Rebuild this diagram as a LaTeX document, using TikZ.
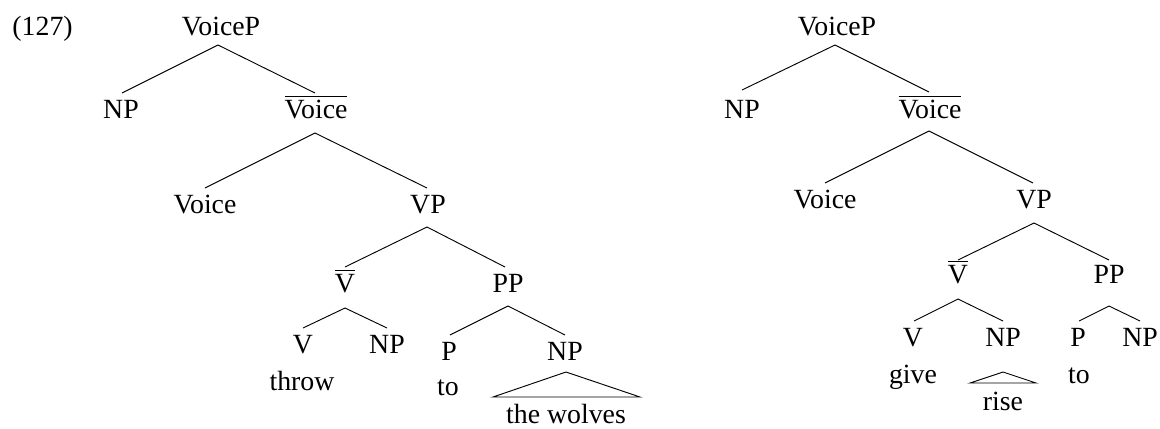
\documentclass[tikz,border=0pt]{standalone}
\usepackage{fontspec}
\setmainfont{Liberation Serif}
\begin{document}
\begin{tikzpicture}[x=0.4317pt,y=-0.4317pt,
  lab/.style={anchor=base,inner sep=0pt,font=\fontsize{12}{14}\selectfont},
  branch/.style={line width=0.4pt}]
\useasboundingbox (0,0) rectangle (1160,428);
% ---------- left tree ----------
\node[lab,anchor=base west] (ex) at (12,35) {(127)};
\node[lab] (vpA) at (221,35) {VoiceP};
\node[lab] (npA) at (121,118) {NP};
\node[lab] (vbA) at (316,118) {$\overline{\hbox{Voice}}$};
\node[lab] (voA) at (205,213) {Voice};
\node[lab] (vpbA) at (428,213) {VP};
\node[lab] (vbarA) at (345,292) {$\overline{\hbox{V}}$};
\node[lab] (ppA) at (508,292) {PP};
\node[lab] (vA) at (303,353) {V};
\node[lab] (npbA) at (387,353) {NP};
\node[lab] (throw) at (302,390) {throw};
\node[lab] (pA) at (449,360) {P};
\node[lab] (npcA) at (565,360) {NP};
\node[lab] (toA) at (448,395) {to};
\node[lab] (wolves) at (566,423) {the wolves};
\draw[branch] ([shift={(-3,10)}]vpA.base) -- ([shift={(1,-25)}]npA.base);
\draw[branch] ([shift={(-3,10)}]vpA.base) -- ([shift={(-1,-25)}]vbA.base);
\draw[branch] ([shift={(-1,15)}]vbA.base) -- ([shift={(0,-25)}]voA.base);
\draw[branch] ([shift={(-1,15)}]vbA.base) -- ([shift={(-1,-25)}]vpbA.base);
\draw[branch] ([shift={(-1,14)}]vpbA.base) -- ([shift={(0,-25)}]vbarA.base);
\draw[branch] ([shift={(-1,14)}]vpbA.base) -- ([shift={(-3,-25)}]ppA.base);
\draw[branch] ([shift={(0,16)}]vbarA.base) -- ([shift={(0,-25)}]vA.base);
\draw[branch] ([shift={(0,16)}]vbarA.base) -- ([shift={(0,-25)}]npbA.base);
\draw[branch] ([shift={(0,14)}]ppA.base) -- ([shift={(1,-25)}]pA.base);
\draw[branch] ([shift={(0,14)}]ppA.base) -- ([shift={(0,-25)}]npcA.base);
\draw[branch] ([shift={(1,12)}]npcA.base) -- ([shift={(-72,37)}]npcA.base)
  -- ([shift={(75,37)}]npcA.base) -- cycle;
% ---------- right tree ----------
\node[lab] (vpB) at (837,35) {VoiceP};
\node[lab] (npB) at (742,118) {NP};
\node[lab] (vbB) at (930,118) {$\overline{\hbox{Voice}}$};
\node[lab] (voB) at (825,208) {Voice};
\node[lab] (vpbB) at (1034,208) {VP};
\node[lab] (vbarB) at (958,283) {$\overline{\hbox{V}}$};
\node[lab] (ppB) at (1109,283) {PP};
\node[lab] (vB) at (913,346) {V};
\node[lab] (npbB) at (1003,346) {NP};
\node[lab] (pB) at (1078,346) {P};
\node[lab] (npcB) at (1140,346) {NP};
\node[lab] (give) at (913,383) {give};
\node[lab] (toB) at (1079,383) {to};
\node[lab] (rise) at (1003,410) {rise};
\draw[branch] ([shift={(-2,10)}]vpB.base) -- ([shift={(0,-28)}]npB.base);
\draw[branch] ([shift={(-2,10)}]vpB.base) -- ([shift={(-1,-26)}]vbB.base);
\draw[branch] ([shift={(-1,13)}]vbB.base) -- ([shift={(0,-25)}]voB.base);
\draw[branch] ([shift={(-1,13)}]vbB.base) -- ([shift={(-1,-25)}]vpbB.base);
\draw[branch] ([shift={(0,15)}]vpbB.base) -- ([shift={(0,-23)}]vbarB.base);
\draw[branch] ([shift={(0,15)}]vpbB.base) -- ([shift={(0,-23)}]ppB.base);
\draw[branch] ([shift={(0,16)}]vbarB.base) -- ([shift={(1,-25)}]vB.base);
\draw[branch] ([shift={(0,16)}]vbarB.base) -- ([shift={(0,-25)}]npbB.base);
\draw[branch] ([shift={(0,23)}]ppB.base) -- ([shift={(1,-25)}]pB.base);
\draw[branch] ([shift={(0,23)}]ppB.base) -- ([shift={(0,-25)}]npcB.base);
\draw[branch] ([shift={(0,26)}]npbB.base) -- ([shift={(-33,37)}]npbB.base)
  -- ([shift={(33,37)}]npbB.base) -- cycle;
\end{tikzpicture}
\end{document}
